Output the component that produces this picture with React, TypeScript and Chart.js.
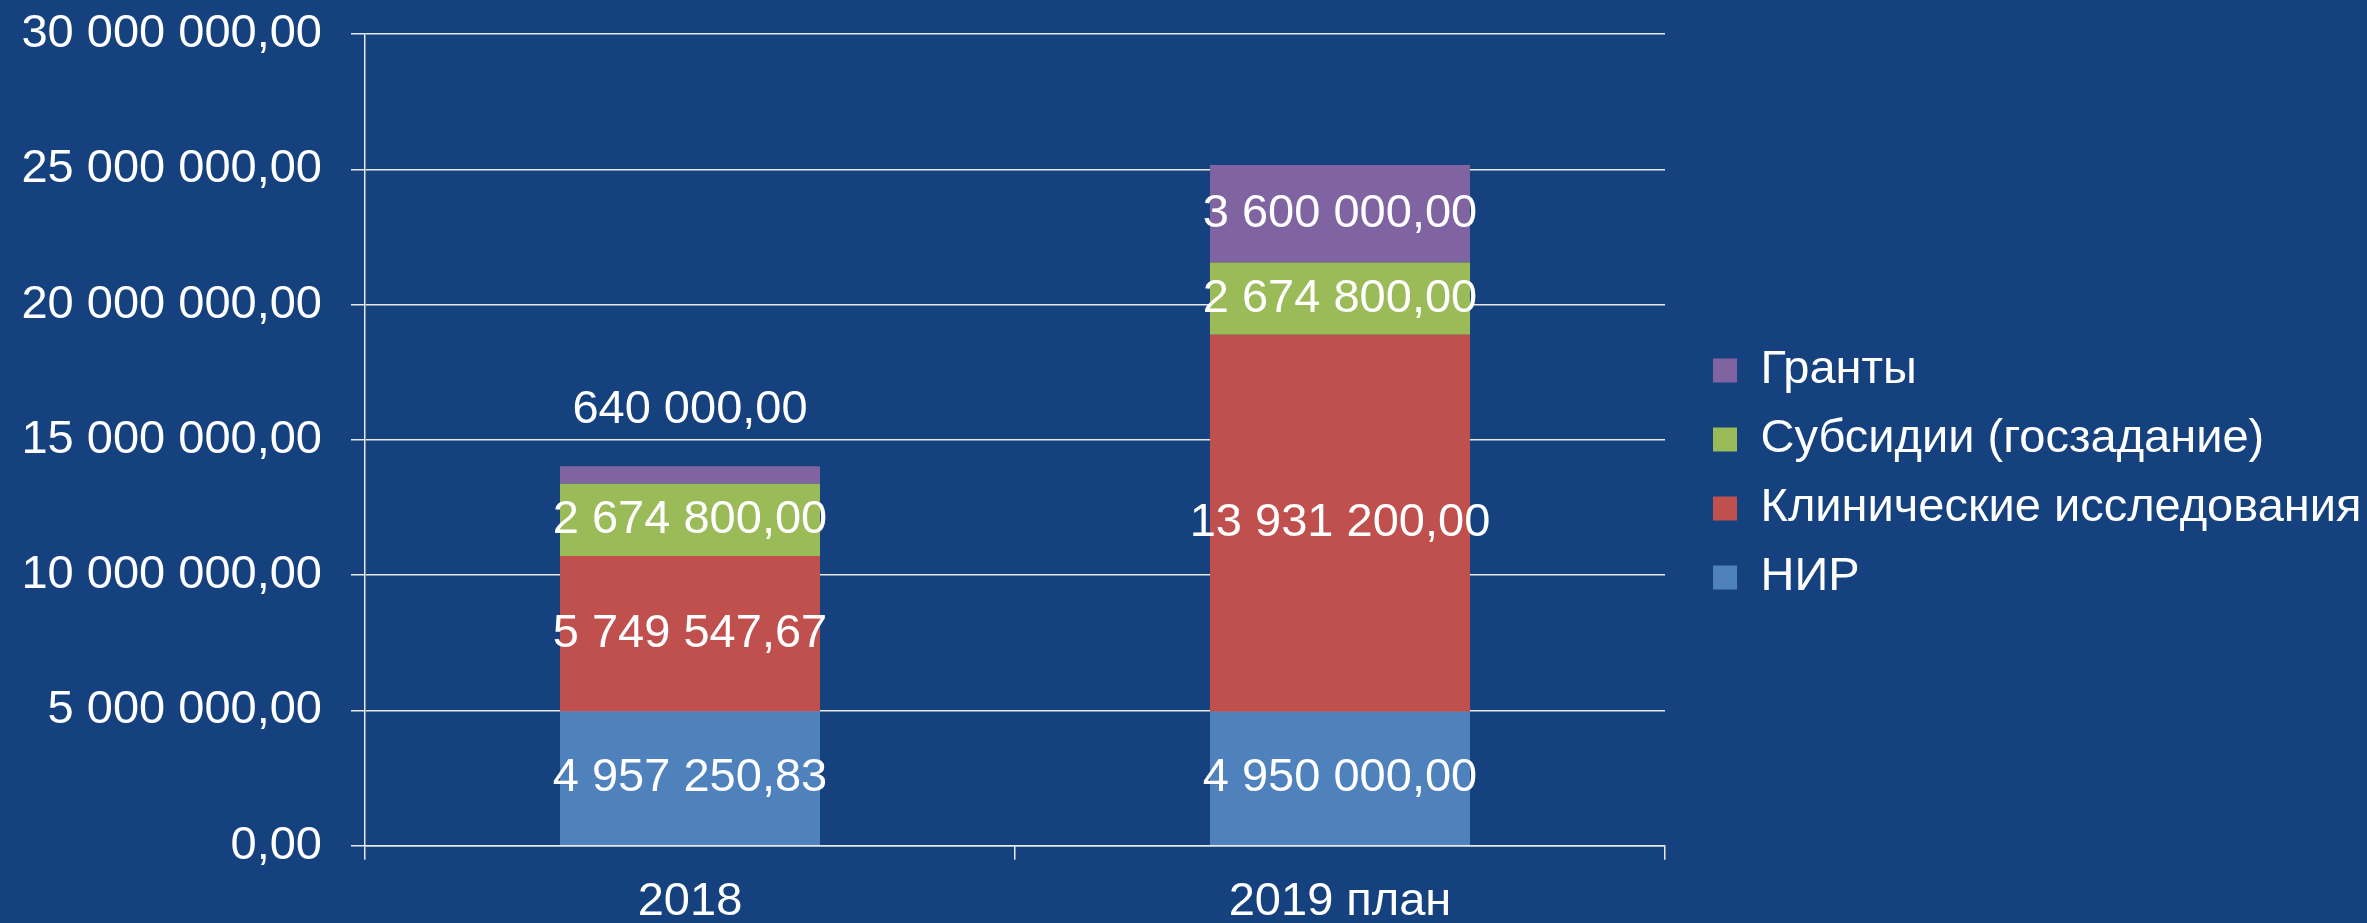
import React, { useEffect, useRef } from 'react';
import { Chart, registerables } from 'chart.js';

Chart.register(...registerables);

const categories = ['2018', '2019 план'];
const nirValues = [4957250.83, 4950000];
const clinicalValues = [5749547.67, 13931200];
const subsidyValues = [2674800, 2674800];
const grantValues = [640000, 3600000];
const seriesNames = ['НИР', 'Клинические исследования', 'Субсидии (госзадание)', 'Гранты'];
const seriesColors = ['#4F81BD', '#C0504D', '#9BBB59', '#8064A2'];
const yMin = 0;
const yMax = 30000000;
const yStep = 5000000;

const FONT_FAMILY = '"Liberation Sans", Arial, sans-serif';
const FONT_SIZE = 47;
const BG = '#15427f';
const LINE = '#e8e8e8';
const CANVAS_W = 2367;
const CANVAS_H = 930;

function fmt(v: number): string {
  const [i, d] = Math.abs(v).toFixed(2).split('.');
  const g = i.replace(/\B(?=(\d{3})+(?!\d))/g, ' ');
  return (v < 0 ? '-' : '') + g + ',' + d;
}

const segmentLabels = {
  id: 'segmentLabels',
  afterDatasetsDraw(chart: any) {
    const ctx = chart.ctx;
    ctx.save();
    ctx.font = `${FONT_SIZE}px ${FONT_FAMILY}`;
    ctx.fillStyle = '#ffffff';
    ctx.textAlign = 'center';
    ctx.textBaseline = 'middle';
    chart.data.datasets.forEach((ds: any, di: number) => {
      const meta = chart.getDatasetMeta(di);
      meta.data.forEach((bar: any, i: number) => {
        const { x, y, base } = bar.getProps(['x', 'y', 'base'], true);
        const h = Math.abs(base - y);
        let ty = (y + base) / 2;
        if (h < FONT_SIZE) ty = Math.min(y, base) - FONT_SIZE * 1.2;
        ctx.fillText(fmt(ds.data[i]), x, ty);
      });
    });
    ctx.restore();
  },
};

export default function App() {
  const canvasRef = useRef<HTMLCanvasElement | null>(null);

  useEffect(() => {
    document.body.style.margin = '0';
    document.body.style.overflow = 'hidden';
    document.body.style.background = BG;
    document.documentElement.style.overflow = 'hidden';
    const canvas = canvasRef.current;
    if (!canvas) return;
    const seriesData = [nirValues, clinicalValues, subsidyValues, grantValues];
    const chart = new Chart(canvas, {
      type: 'bar',
      data: {
        labels: categories,
        datasets: seriesData.map((d, k) => ({
          label: seriesNames[k],
          data: d,
          backgroundColor: seriesColors[k],
          borderWidth: 0,
          barPercentage: 0.4,
          categoryPercentage: 1,
          yAxisID: 'y',
        })),
      },
      options: {
        responsive: false,
        animation: false,
        devicePixelRatio: 1,
        layout: { padding: { top: 18, left: 18, right: 0, bottom: 0 } },
        plugins: {
          tooltip: { enabled: false },
          legend: {
            position: 'right',
            reverse: true,
            maxWidth: 676,
            labels: {
              color: '#ffffff',
              font: { family: FONT_FAMILY, size: FONT_SIZE },
              boxWidth: 24,
              boxHeight: 24,
              padding: 22,
            },
          },
        },
        scales: {
          x: {
            stacked: true,
            grid: {
              display: true,
              drawOnChartArea: false,
              drawTicks: true,
              tickLength: 14,
              color: LINE,
              lineWidth: 1.5,
              offset: true,
            },
            border: { display: true, color: LINE, width: 1.5 },
            ticks: {
              color: '#ffffff',
              font: { family: FONT_FAMILY, size: FONT_SIZE },
              padding: 14,
              maxRotation: 0,
            },
            afterFit: (s: any) => {
              s.height = 84.3;
              s.paddingLeft = 0;
              s.paddingRight = 0;
            },
          },
          y: {
            stacked: true,
            min: yMin,
            max: yMax,
            grid: {
              color: LINE,
              lineWidth: 1.5,
              tickLength: 14,
              drawTicks: true,
            },
            border: { display: true, color: LINE, width: 1.5 },
            ticks: {
              stepSize: yStep,
              color: '#ffffff',
              font: { family: FONT_FAMILY, size: FONT_SIZE },
              padding: 29,
              callback: (v: any) => fmt(Number(v)),
            },
            afterFit: (s: any) => {
              s.width = 347;
              s.paddingTop = 34;
              s.paddingBottom = 0;
            },
          },
          gap: {
            type: 'linear',
            position: 'right',
            display: true,
            min: 0,
            max: 1,
            grid: { display: false, drawTicks: false },
            border: { display: false },
            ticks: { display: false },
            afterFit: (s: any) => {
              s.width = 26;
              s.paddingTop = 0;
              s.paddingBottom = 0;
            },
          },
        },
      },
      plugins: [segmentLabels],
    });
    return () => chart.destroy();
  }, []);

  return (
    <div style={{ width: CANVAS_W, height: CANVAS_H, background: BG }}>
      <canvas ref={canvasRef} width={CANVAS_W} height={CANVAS_H} style={{ display: 'block' }} />
    </div>
  );
}
